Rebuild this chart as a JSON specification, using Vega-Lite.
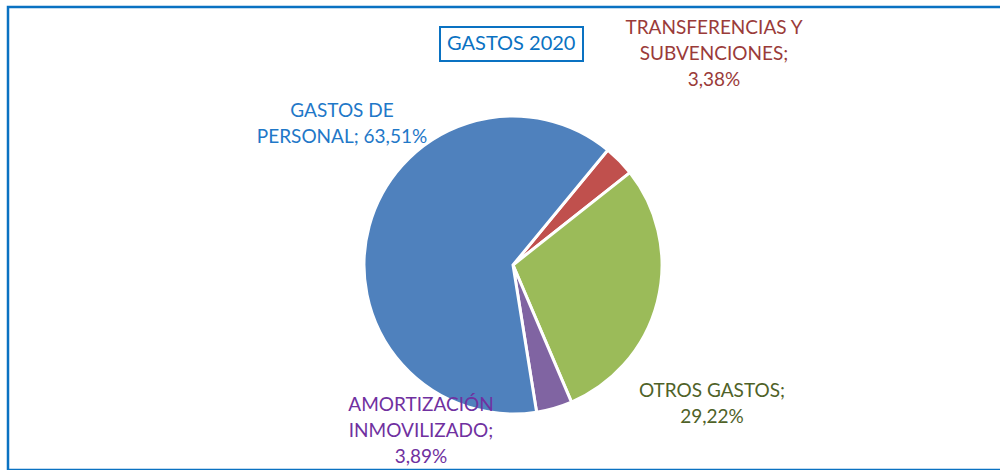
{
  "$schema": "https://vega.github.io/schema/vega-lite/v6.json",
  "width": 1010,
  "height": 463,
  "padding": {"left": 8, "top": 7, "right": 0, "bottom": 0},
  "autosize": {"type": "none"},
  "background": "white",
  "view": {"stroke": "#0A72C2", "strokeWidth": 2.5},
  "config": {
    "view": {"stroke": "#0A72C2", "strokeWidth": 2.5},
    "font": "Lato",
    "legend": {"strokeWidth": 2}
  },
  "data": {
    "values": [
      {"categoria": "TRANSFERENCIAS Y SUBVENCIONES", "pct": 3.38, "orden": 1},
      {"categoria": "OTROS GASTOS", "pct": 29.22, "orden": 2},
      {"categoria": "AMORTIZACIÓN INMOVILIZADO", "pct": 3.89, "orden": 3},
      {"categoria": "GASTOS DE PERSONAL", "pct": 63.51, "orden": 4}
    ]
  },
  "layer": [
    {
      "mark": {"type": "arc", "outerRadius": 149, "stroke": "white", "strokeWidth": 3, "yOffset": 26.5},
      "encoding": {
        "theta": {"field": "pct", "type": "quantitative", "stack": true, "scale": {"range": [0.69, 6.973]}},
        "order": {"field": "orden", "type": "quantitative"},
        "color": {
          "field": "categoria",
          "type": "nominal",
          "scale": {
            "domain": ["TRANSFERENCIAS Y SUBVENCIONES", "OTROS GASTOS", "AMORTIZACIÓN INMOVILIZADO", "GASTOS DE PERSONAL"],
            "range": ["#C0504D", "#9BBB59", "#8064A2", "#4F81BD"]
          },
          "legend": {
            "title": "GASTOS 2020",
            "values": [],
            "orient": "none",
            "legendX": 432,
            "legendY": 20,
            "strokeColor": "#0A72C2",
            "padding": 7,
            "titleColor": "#0A72C2",
            "titleFontSize": 20,
            "titleFontWeight": "normal",
            "titleFont": "Lato",
            "titlePadding": 0
          }
        }
      }
    },
    {
      "transform": [{"filter": "datum.orden == 4"}],
      "mark": {"type": "text", "fontSize": 19, "lineBreak": "\n", "lineHeight": 26, "align": "center", "baseline": "middle", "dx": -171, "dy": -127.5, "color": "#1F78C8"},
      "encoding": {"text": {"value": "GASTOS DE\nPERSONAL; 63,51%"}}
    },
    {
      "transform": [{"filter": "datum.orden == 1"}],
      "mark": {"type": "text", "fontSize": 19, "lineBreak": "\n", "lineHeight": 26, "align": "center", "baseline": "middle", "dx": 201, "dy": -211, "color": "#9A3B39"},
      "encoding": {"text": {"value": "TRANSFERENCIAS Y\nSUBVENCIONES;\n3,38%"}}
    },
    {
      "transform": [{"filter": "datum.orden == 2"}],
      "mark": {"type": "text", "fontSize": 19, "lineBreak": "\n", "lineHeight": 26, "align": "center", "baseline": "middle", "dx": 199, "dy": 152.5, "color": "#4F6228"},
      "encoding": {"text": {"value": "OTROS GASTOS;\n29,22%"}}
    },
    {
      "transform": [{"filter": "datum.orden == 3"}],
      "mark": {"type": "text", "fontSize": 19, "lineBreak": "\n", "lineHeight": 26, "align": "center", "baseline": "middle", "dx": -92, "dy": 166.5, "color": "#7030A0"},
      "encoding": {"text": {"value": "AMORTIZACIÓN\nINMOVILIZADO;\n3,89%"}}
    }
  ]
}
